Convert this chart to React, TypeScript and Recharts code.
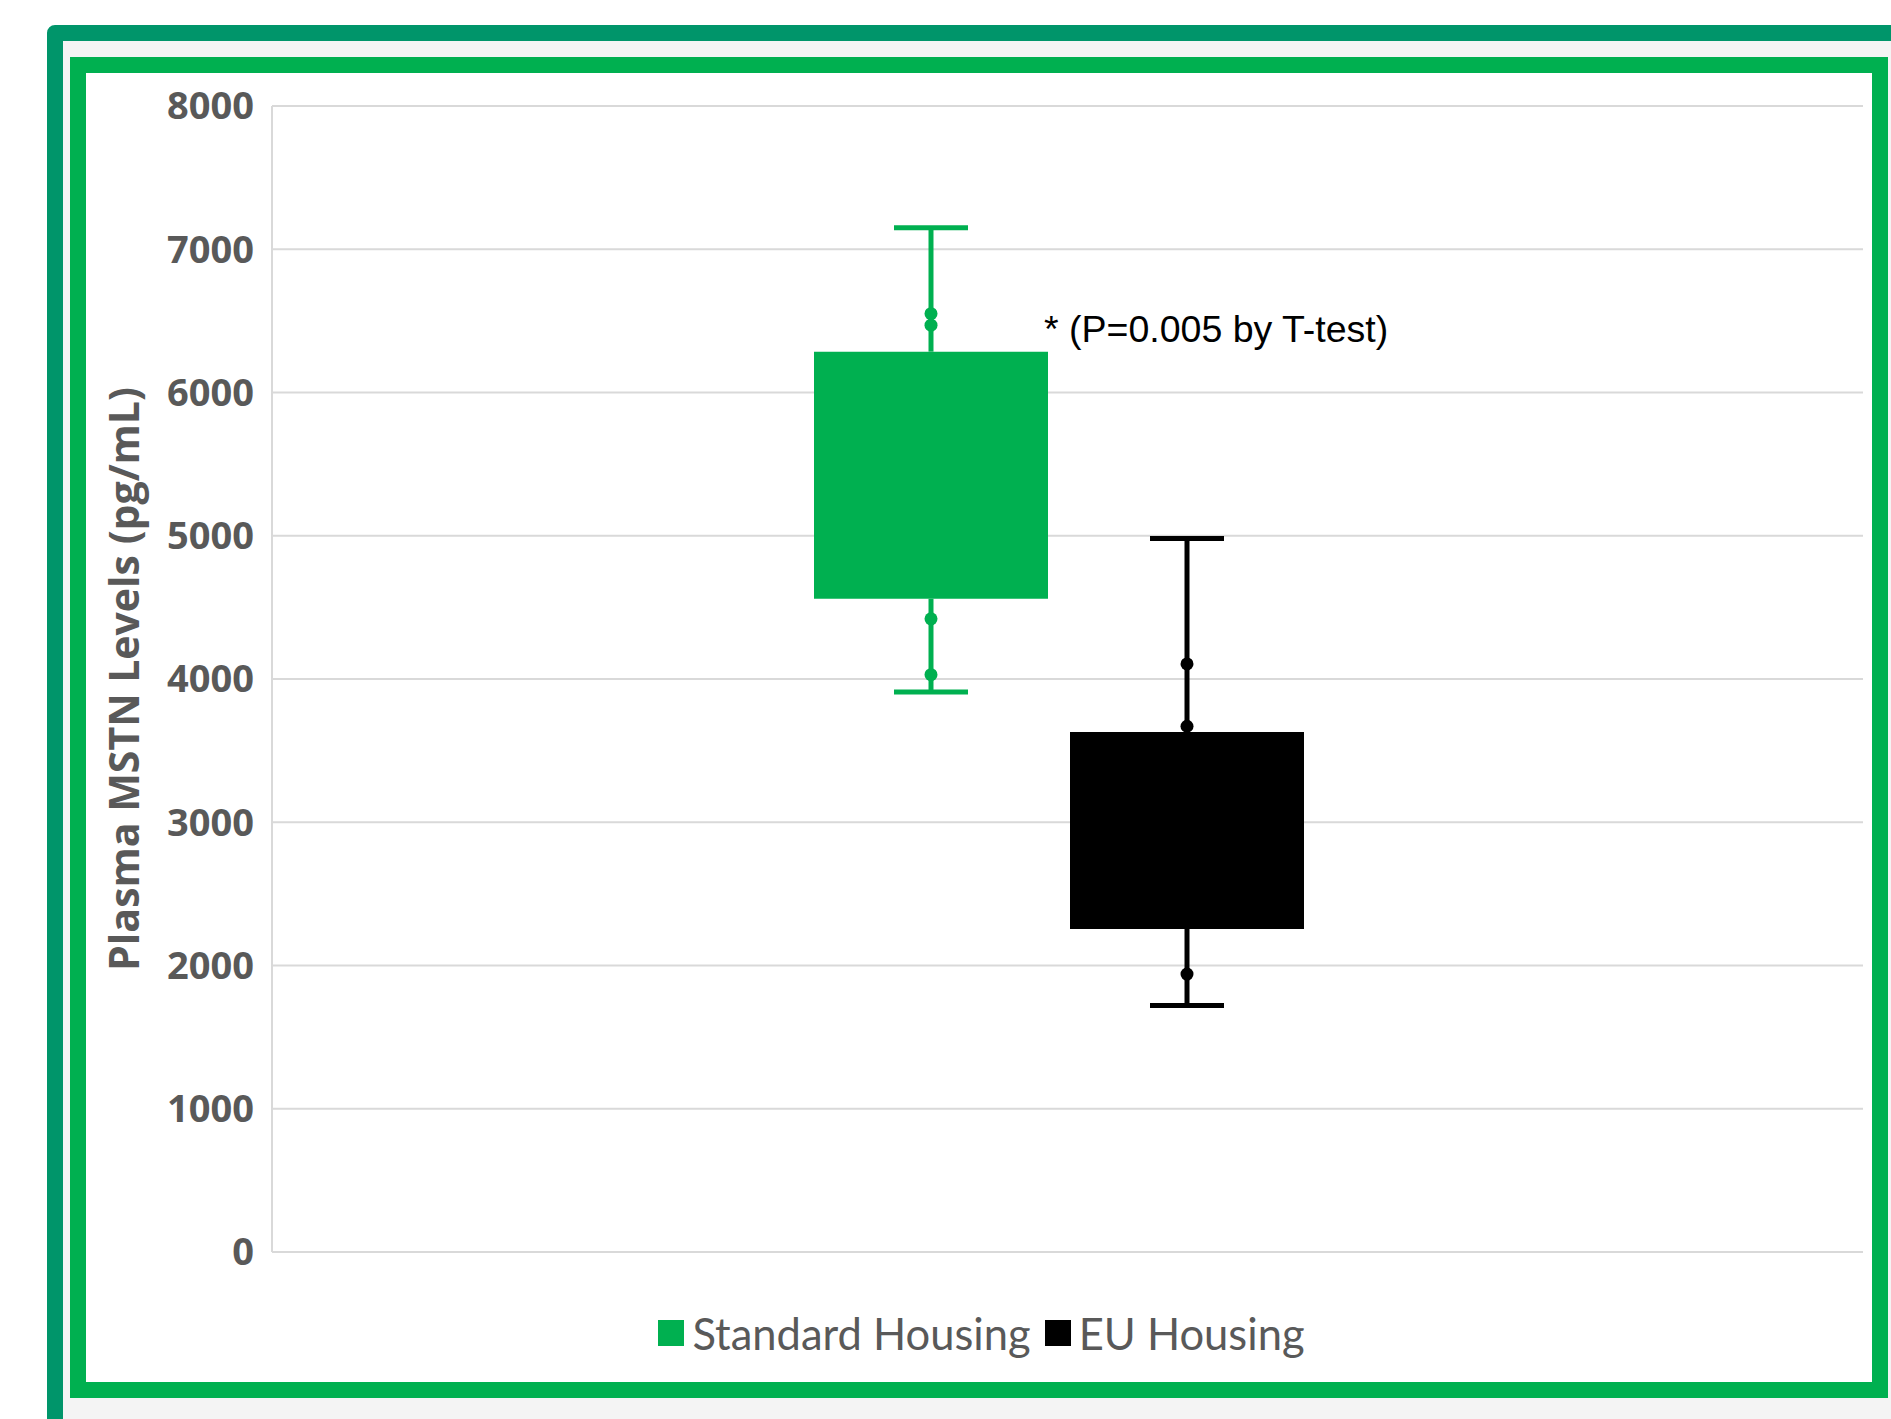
import { ComposedChart, Bar, XAxis, YAxis, CartesianGrid, Legend } from 'recharts';

// box plot values (pg/mL)
const groups = ['Standard Housing', 'EU Housing'];
const groupKeys = ['std', 'eu'];
const groupColors = ['#00B050', '#000000'];
const minValues = [3910, 1720];
const q1Values = [4560, 2255];
const q3Values = [6285, 3630];
const maxValues = [7150, 4980];
const pointValues = [
    [6550, 6470, 4420, 4030],
    [4105, 3670, 1940],
];
const yTicks = [0, 1000, 2000, 3000, 4000, 5000, 6000, 7000, 8000];
const yTitle = 'Plasma MSTN Levels (pg/mL)';
const note = '* (P=0.005 by T-test)';

const row: Record<string, any> = { name: '' };
groupKeys.forEach((k, i) => {
    row[`${k}_base`] = minValues[i];
    row[`${k}_low`] = q1Values[i] - minValues[i];
    row[`${k}_box`] = q3Values[i] - q1Values[i];
    row[`${k}_high`] = maxValues[i] - q3Values[i];
});
const data = [row];

const CAP = 74;

// lower whisker: segment from Q1 (top) down to min (bottom)
const lowWhisker = (i: number) => (props: any) => {
    const { x, y, width, height } = props;
    const cx = x + width / 2;
    const ppu = height / (q1Values[i] - minValues[i]);
    const color = groupColors[i];
    const pts = pointValues[i].filter((v) => v < q1Values[i]);
    return (
        <g>
            <line x1={cx} x2={cx} y1={y} y2={y + height} stroke={color} strokeWidth={5} />
            <line x1={cx - CAP / 2} x2={cx + CAP / 2} y1={y + height} y2={y + height} stroke={color} strokeWidth={5} />
            {pts.map((v, j) => (
                <circle key={j} cx={cx} cy={y + (q1Values[i] - v) * ppu} r={6.5} fill={color} />
            ))}
        </g>
    );
};

// upper whisker: segment from max (top) down to Q3 (bottom)
const highWhisker = (i: number) => (props: any) => {
    const { x, y, width, height } = props;
    const cx = x + width / 2;
    const ppu = height / (maxValues[i] - q3Values[i]);
    const color = groupColors[i];
    const pts = pointValues[i].filter((v) => v >= q3Values[i]);
    return (
        <g>
            <line x1={cx} x2={cx} y1={y} y2={y + height} stroke={color} strokeWidth={5} />
            <line x1={cx - CAP / 2} x2={cx + CAP / 2} y1={y} y2={y} stroke={color} strokeWidth={5} />
            {pts.map((v, j) => (
                <circle key={j} cx={cx} cy={y + (maxValues[i] - v) * ppu} r={6.5} fill={color} />
            ))}
        </g>
    );
};

const renderLegend = () => (
    <div style={{ height: 130, display: 'flex', justifyContent: 'center', paddingTop: 56, paddingLeft: 14, boxSizing: 'border-box' }}>
        {groups.map((g, i) => (
            <div key={g} style={{ display: 'flex', alignItems: 'center', height: 50, marginRight: i === 0 ? 14 : 0 }}>
                <span style={{ width: 26, height: 26, background: groupColors[i], display: 'inline-block', marginRight: 8 }} />
                <span style={{ fontFamily: 'Lato', fontSize: 43.5, color: '#595959' }}>{g}</span>
            </div>
        ))}
    </div>
);

export default function App() {
    return (
        <div style={{ position: 'absolute', left: 0, top: 0, width: 1891, height: 1419, overflow: 'hidden', background: '#fff' }}>
            {/* outer frame */}
            <div
                style={{
                    position: 'absolute', left: 47, top: 25, width: 1891, height: 1450,
                    border: '16px solid #00956A', borderRadius: 8, background: '#F4F4F4',
                }}
            />
            {/* inner frame */}
            <div
                style={{
                    position: 'absolute', left: 70, top: 57, width: 1818, height: 1341,
                    border: '16px solid #00B050', background: '#fff', boxSizing: 'border-box',
                }}
            />
            <div style={{ position: 'absolute', left: 86, top: 73 }}>
                <ComposedChart
                    width={1786}
                    height={1309}
                    data={data}
                    margin={{ top: 33, right: 9, bottom: 0, left: 0 }}
                    barSize={234}
                    barGap={22}
                >
                    <CartesianGrid vertical={false} stroke="#D9D9D9" strokeWidth={2} />
                    <XAxis dataKey="name" hide padding={{ left: 0, right: 17 }} />
                    <YAxis
                        width={186}
                        domain={[0, 8000]}
                        ticks={yTicks}
                        interval={0}
                        tickLine={false}
                        tickSize={0}
                        tickMargin={18}
                        axisLine={{ stroke: '#D9D9D9', strokeWidth: 2 }}
                        tick={{ fill: '#595959', fontSize: 38, fontWeight: 700, fontFamily: 'Open Sans' }}
                        label={{
                            value: yTitle,
                            angle: -90,
                            position: 'insideLeft',
                            offset: 38,
                            style: { textAnchor: 'middle', fill: '#595959', fontSize: 41, fontWeight: 700, fontFamily: 'Open Sans' },
                        }}
                    />
                    <Legend verticalAlign="bottom" content={renderLegend} />
                    {groupKeys.map((k, i) => [
                        <Bar key={`${k}_base`} dataKey={`${k}_base`} stackId={k} fill="transparent" isAnimationActive={false} legendType="none" />,
                        <Bar key={`${k}_low`} dataKey={`${k}_low`} stackId={k} shape={lowWhisker(i)} isAnimationActive={false} legendType="none" />,
                        <Bar key={`${k}_box`} dataKey={`${k}_box`} stackId={k} fill={groupColors[i]} isAnimationActive={false} />,
                        <Bar key={`${k}_high`} dataKey={`${k}_high`} stackId={k} shape={highWhisker(i)} isAnimationActive={false} legendType="none" />,
                    ])}
                </ComposedChart>
            </div>
            <div
                style={{
                    position: 'absolute', left: 1044, top: 309, lineHeight: '40px',
                    fontFamily: 'Liberation Sans', fontSize: 37.5, color: '#000', whiteSpace: 'nowrap',
                }}
            >
                {note}
            </div>
        </div>
    );
}
